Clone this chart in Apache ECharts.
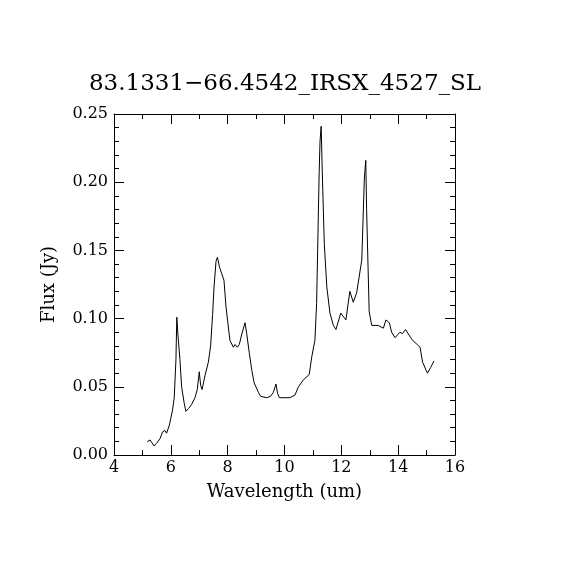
<!DOCTYPE html>
<html>
<head>
    <meta charset="utf-8">
    <title>ECharts</title>
    <script src="https://cdn.jsdelivr.net/npm/echarts@6/dist/echarts.min.js"></script>
    <style type="text/css">
        * {
            margin: 0;
            padding: 0;
        }
        body { background: #fff; }
    </style>
</head>
<body>
<div id="main" style="width: 570px; height: 570px;"></div>
<script type="text/javascript">
    // spectrum
    var wavelength = [5.17, 5.27, 5.41, 5.50, 5.62, 5.71, 5.79, 5.85, 5.95, 6.00,
        6.06, 6.12, 6.18, 6.21, 6.25, 6.32, 6.38, 6.47, 6.53, 6.62,
        6.73, 6.85, 6.93, 7.00, 7.05, 7.10, 7.20, 7.32, 7.40, 7.47,
        7.52, 7.59, 7.64, 7.71, 7.79, 7.87, 7.94, 8.00, 8.08, 8.20,
        8.26, 8.34, 8.41, 8.49, 8.61, 8.67, 8.76, 8.85, 8.93, 9.08,
        9.16, 9.37, 9.51, 9.61, 9.70, 9.76, 9.82, 10.19, 10.37, 10.49,
        10.66, 10.87, 10.96, 11.07, 11.13, 11.22, 11.25, 11.29, 11.33, 11.40,
        11.49, 11.60, 11.72, 11.81, 11.98, 12.16, 12.30, 12.42, 12.54, 12.72,
        12.81, 12.86, 12.89, 12.98, 13.07, 13.30, 13.48, 13.57, 13.69, 13.77,
        13.89, 14.06, 14.15, 14.26, 14.38, 14.51, 14.67, 14.77, 14.86, 15.03,
        15.14, 15.26];
    var flux = [0.0098, 0.011, 0.0066, 0.0086, 0.012, 0.017, 0.018, 0.016, 0.022, 0.021,
        0.033, 0.042, 0.070, 0.101, 0.088, 0.070, 0.050, 0.038, 0.032, 0.034,
        0.037, 0.042, 0.048, 0.061, 0.051, 0.048, 0.058, 0.068, 0.080, 0.103,
        0.123, 0.142, 0.145, 0.138, 0.133, 0.128, 0.109, 0.098, 0.084, 0.079,
        0.081, 0.079, 0.081, 0.088, 0.097, 0.089, 0.075, 0.062, 0.053, 0.046,
        0.043, 0.042, 0.043, 0.046, 0.052, 0.045, 0.042, 0.042, 0.044, 0.050,
        0.055, 0.059, 0.072, 0.084, 0.111, 0.207, 0.230, 0.241, 0.207, 0.155,
        0.123, 0.104, 0.095, 0.092, 0.104, 0.099, 0.120, 0.112, 0.119, 0.143,
        0.203, 0.216, 0.180, 0.105, 0.095, 0.095, 0.093, 0.099, 0.097, 0.090,
        0.086, 0.090, 0.089, 0.092, 0.088, 0.084, 0.081, 0.079, 0.068, 0.060,
        0.064, 0.069];
    var titleText = '83.1331\u221266.4542_IRSX_4527_SL';
    var xName = 'Wavelength (um)';
    var yName = 'Flux (Jy)';

    var points = [];
    for (var i = 0; i < wavelength.length; i++) {
        points.push([wavelength[i], flux[i]]);
    }

    var font = 'DejaVu Serif';
    var black = '#000';

    function frameAxis(extra) {
        var base = {
            axisLine: { show: true, onZero: false, lineStyle: { color: black, width: 1 } },
            axisTick: { show: true, inside: true, length: 10, lineStyle: { color: black } },
            splitLine: { show: false },
            minorSplitLine: { show: false }
        };
        for (var k in extra) base[k] = extra[k];
        return base;
    }

    var myChart = echarts.init(document.getElementById('main'));
    var option = {
        backgroundColor: '#fff',
        animation: false,
        title: {
            text: titleText,
            left: 'center',
            top: 68,
            textStyle: { fontFamily: font, fontSize: 23, fontWeight: 'normal', color: black }
        },
        grid: { left: 114, right: 115, top: 114, bottom: 115 },
        xAxis: [
            frameAxis({
                type: 'value', min: 4, max: 16, interval: 2, position: 'bottom',
                minorTick: { show: true, splitNumber: 2, length: 5, lineStyle: { color: black } },
                axisLabel: { color: black, fontFamily: font, fontSize: 16, margin: 5 },
                name: xName, nameLocation: 'middle', nameGap: 28,
                nameTextStyle: { color: black, fontFamily: font, fontSize: 18 }
            }),
            frameAxis({
                type: 'value', min: 4, max: 16, interval: 2, position: 'top',
                minorTick: { show: true, splitNumber: 2, length: 5, lineStyle: { color: black } },
                axisLabel: { show: false }
            })
        ],
        yAxis: [
            frameAxis({
                type: 'value', min: 0, max: 0.25, interval: 0.05, position: 'left',
                minorTick: { show: true, splitNumber: 5, length: 5, lineStyle: { color: black } },
                axisLabel: {
                    color: black, fontFamily: font, fontSize: 16, margin: 6,
                    formatter: function (v) { return v.toFixed(2); }
                },
                name: yName, nameLocation: 'middle', nameGap: 56,
                nameTextStyle: { color: black, fontFamily: font, fontSize: 18 }
            }),
            frameAxis({
                type: 'value', min: 0, max: 0.25, interval: 0.05, position: 'right',
                minorTick: { show: true, splitNumber: 5, length: 5, lineStyle: { color: black } },
                axisLabel: { show: false }
            })
        ],
        series: [
            {
                type: 'line',
                xAxisIndex: 0,
                yAxisIndex: 0,
                data: points,
                symbol: 'none',
                lineStyle: { color: black, width: 1 }
            }
        ]
    };
    myChart.setOption(option);
</script>
</body>
</html>
